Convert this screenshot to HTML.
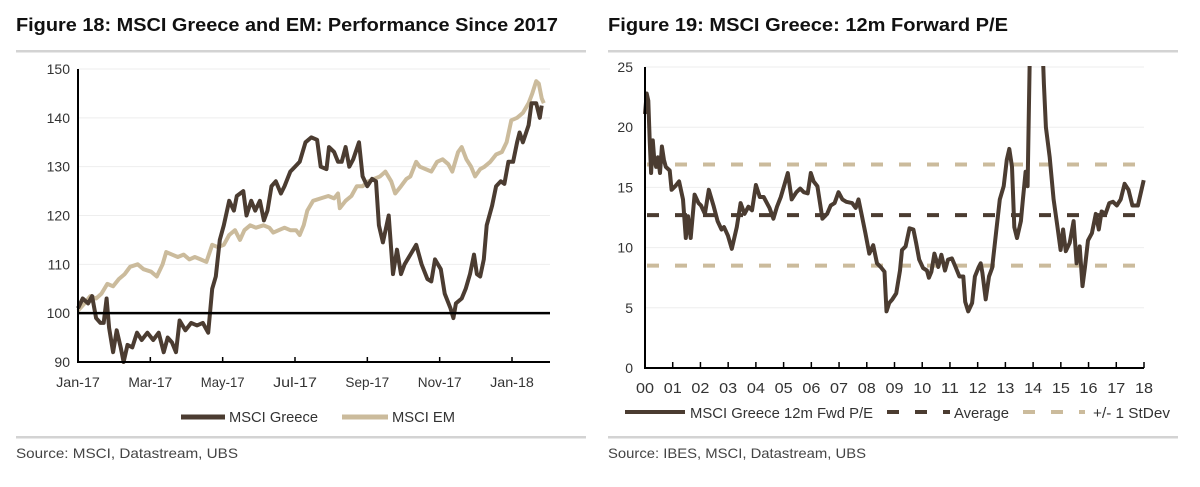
<!DOCTYPE html>
<html><head><meta charset="utf-8"><style>
body{margin:0;background:#fff;}
svg{display:block;font-family:"Liberation Sans",sans-serif;}
</style></head><body>
<svg id="c" width="1200" height="487" viewBox="0 0 1200 487">
<text x="16" y="31" font-size="18" font-weight="bold" fill="#111" textLength="542" lengthAdjust="spacingAndGlyphs">Figure 18: MSCI Greece and EM: Performance Since 2017</text>
<text x="608" y="31" font-size="18" font-weight="bold" fill="#111" textLength="400" lengthAdjust="spacingAndGlyphs">Figure 19: MSCI Greece: 12m Forward P/E</text>
<rect x="16" y="50" width="570" height="2.5" fill="#d3d3d3"/>
<rect x="608" y="50" width="570" height="2.5" fill="#d3d3d3"/>
<rect x="16" y="436" width="570" height="2.5" fill="#d3d3d3"/>
<rect x="608" y="436" width="570" height="2.5" fill="#d3d3d3"/>
<text x="16" y="458" font-size="14" fill="#444" textLength="222" lengthAdjust="spacingAndGlyphs">Source:  MSCI, Datastream, UBS</text>
<text x="608" y="458" font-size="14" fill="#444" textLength="258" lengthAdjust="spacingAndGlyphs">Source:  IBES, MSCI, Datastream, UBS</text>
<g id="left"></g><g id="right"></g>
<defs><clipPath id="clipR"><rect x="640" y="66" width="520" height="305"/></clipPath></defs>
</svg>
<script>
// Figure 18 data (months since Jan-17)
const grMonths=[0,.13,.28,.39,.5,.62,.71,.79,.86,.97,1.07,1.18,1.26,1.37,1.5,1.63,1.76,1.92,2.08,2.23,2.37,2.48,2.6,2.71,2.81,2.97,3.13,3.29,3.45,3.6,3.71,3.81,3.92,4.03,4.18,4.31,4.39,4.57,4.66,4.79,4.9,5.03,5.14,5.24,5.35,5.47,5.61,5.71,5.87,6,6.13,6.29,6.45,6.61,6.71,6.87,6.94,7.08,7.19,7.29,7.4,7.5,7.61,7.77,7.87,8,8.13,8.24,8.32,8.43,8.59,8.71,8.82,8.93,9.03,9.19,9.35,9.5,9.66,9.77,9.87,10.03,10.14,10.3,10.38,10.45,10.61,10.72,10.84,10.95,11.03,11.12,11.22,11.3,11.45,11.56,11.69,11.79,11.9,12.03,12.14,12.21,12.3,12.46,12.54,12.67,12.77,12.82];
const grValues=[101,103,102,103.5,99,98,98,103,97,92,96.5,93,90,93.5,93,96,94.5,96,94.5,96,92,95,94,92,98.5,96.5,98,97.5,98,96,105,107.5,115,118,123,121,124,125,120,123,121,123,119,121,126,127,124.5,126,129,130,131,135,136,135.5,130,129.5,134,133,131,131,134,130,131.5,135,128,126,127.5,127,118,114.5,120,108,113,108,110,112,114,110,107,106.5,111,109,104,101,99,102,103,105,108,112,108,107.5,111,118,122,126,127,126.5,131,131,135,137,135,138.5,143,143,140,142.5];
const emMonths=[0,.18,.34,.5,.65,.81,.97,1.13,1.29,1.44,1.65,1.81,2.02,2.18,2.34,2.44,2.6,2.76,2.92,3.08,3.23,3.39,3.55,3.71,3.87,4.03,4.18,4.34,4.48,4.6,4.76,4.92,5.13,5.29,5.4,5.55,5.71,5.87,6.03,6.13,6.24,6.34,6.5,6.71,6.92,7.08,7.19,7.24,7.4,7.56,7.71,7.87,8.03,8.19,8.35,8.5,8.66,8.77,8.93,9.08,9.19,9.35,9.45,9.61,9.77,9.93,10.08,10.24,10.35,10.51,10.61,10.74,10.87,10.98,11.12,11.24,11.4,11.56,11.72,11.85,11.98,12.14,12.3,12.46,12.56,12.67,12.74,12.82,12.88];
const emValues=[100.5,102,103.5,103,104,106,105.5,107,108,109.5,110,109,108.5,107.5,110,112.5,112,111.5,112,111,111.5,111,110.5,114,113.5,114,116,117,115,117,118,117.5,118,117.5,116.5,117,117.5,117,117,116,118,121,123,123.5,124,123.5,124.5,121.5,123,124,126,126,127,127.5,128,129,127,124.5,126,127.5,128,131,130,129.5,129,131,131.5,130.5,129,133,134,131.5,130,128,129.5,130,131,132.5,133,135,139.5,140,141,143,145,147.5,147,144,143];
const leftYTicks=[90,100,110,120,130,140,150];
const leftXLabels=["Jan-17","Mar-17","May-17","Jul-17","Sep-17","Nov-17","Jan-18"];
const leftXTickMonths=[0,2,4,6,8,10,12];
// Figure 19 data (years since 2000)
const peYears=[0,.06,.12,.17,.22,.28,.33,.4,.47,.54,.61,.68,.75,.89,.96,1.09,1.23,1.37,1.47,1.55,1.65,1.79,1.93,2.02,2.16,2.3,2.48,2.62,2.76,2.85,2.99,3.13,3.31,3.45,3.59,3.73,3.86,4,4.14,4.28,4.49,4.63,4.76,4.9,5.04,5.15,5.29,5.46,5.6,5.73,5.87,5.98,6.08,6.22,6.4,6.57,6.7,6.84,6.98,7.12,7.26,7.47,7.6,7.7,7.81,7.95,8.09,8.23,8.37,8.5,8.64,8.71,8.81,8.92,9.06,9.2,9.27,9.4,9.54,9.68,9.78,9.89,10.03,10.17,10.24,10.33,10.44,10.58,10.69,10.82,10.93,11.07,11.2,11.34,11.48,11.55,11.66,11.8,11.9,12.04,12.11,12.17,12.29,12.41,12.52,12.66,12.8,12.94,13.05,13.14,13.24,13.32,13.42,13.56,13.63,13.73,13.8,13.88,14.04,14.32,14.39,14.46,14.6,14.74,14.88,14.99,15.08,15.18,15.32,15.46,15.57,15.68,15.78,15.87,15.98,16.12,16.26,16.37,16.47,16.61,16.75,16.88,17.02,17.16,17.3,17.44,17.58,17.78,17.99];
const peValues=[21.1,22.8,22.2,18.9,16.2,18.9,17.5,16.7,17.5,16.2,18.4,17.3,16.7,16.4,14.8,15.1,15.5,14,10.8,12.6,10.8,14.4,13.7,13.5,12.8,14.8,13.4,12.2,11.5,11.7,11,9.9,11.7,13.7,12.8,13.4,13.1,15.2,14.2,14.2,13.3,12.4,13.4,14.2,15.3,16.2,14,14.6,14.9,14.6,14.5,16.2,15.5,15.1,12.4,12.8,13.5,13.7,14.6,14,13.8,13.7,13.3,14,12.8,11.2,9.5,10.2,8.7,8.4,8,4.7,5.4,5.7,6.2,8.1,9.8,10.1,11.6,11.5,10.4,9,8.3,8.1,7.5,8,9.5,8.4,9.4,8.1,9,9.1,8.4,7.6,7.6,5.5,4.7,5.4,7.6,8.4,8.7,7.9,5.7,7.6,8.3,11.2,14,15.1,17.3,18.2,16.7,11.7,10.8,12.2,14,16.3,15.1,26,32,28,23.6,20,17.5,14,11.7,9.8,11.5,9.7,10.4,12.2,8.7,10.1,6.8,8.4,10.6,11.2,12.8,11.5,13,12.8,13.7,13.8,13.5,14,15.3,14.8,13.5,13.5,15.6];
const peAverage=[12.7];
const peStdBands=[16.9,8.5];
const rightYTicks=[0,5,10,15,20,25];
const rightXLabels=["00","01","02","03","04","05","06","07","08","09","10","11","12","13","14","15","16","17","18"];

const NS="http://www.w3.org/2000/svg";
function mk(parent,tag,attrs){const e=document.createElementNS(NS,tag);for(const k in attrs)e.setAttribute(k,attrs[k]);parent.appendChild(e);return e;}
const L={x0:78,x1:550,y0:362,y1:69};
const lx=m=>L.x0+m*(512-78)/12;
const ly=v=>L.y0-(v-90)*(L.y0-L.y1)/60;
const R={x0:645,x1:1144,y0:368,y1:67};
const rx=y=>R.x0+y*(R.x1-R.x0)/18;
const ry=v=>R.y0-v*(R.y0-R.y1)/25;

const gl=document.getElementById('left');
leftYTicks.forEach(t=>{
  if(t>90){const g=mk(gl,'line',{x1:L.x0,x2:L.x1,y1:ly(t),y2:ly(t),stroke:'#eeeeee','stroke-width':1});
  
  }
  const tx=mk(gl,'text',{x:L.x0-8,y:ly(t)+5,'font-size':14,fill:'#333','text-anchor':'end'});tx.textContent=t;
  
  
});
leftXTickMonths.forEach((m,i)=>{
  const tk=mk(gl,'line',{x1:lx(m),x2:lx(m),y1:L.y0,y2:L.y0-5,stroke:'#000','stroke-width':1.5});
  
  
  const tx=mk(gl,'text',{x:lx(m),y:L.y0+25,'font-size':14,fill:'#333','text-anchor':'middle',textLength:leftXLabels[i].length*7.3,lengthAdjust:'spacingAndGlyphs'});tx.textContent=leftXLabels[i];
  
  
});
function path(xs,ys,fx,fy){return xs.map((x,i)=>(i?'L':'M')+fx(x).toFixed(1)+','+fy(ys[i]).toFixed(1)).join('');}
const em=mk(gl,'path',{d:path(emMonths,emValues,lx,ly),fill:'none',stroke:'#cbbb9c','stroke-width':4,'stroke-linejoin':'round'});


const gr=mk(gl,'path',{d:path(grMonths,grValues,lx,ly),fill:'none',stroke:'#4b3c31','stroke-width':4,'stroke-linejoin':'round'});


const base=mk(gl,'line',{x1:L.x0,x2:L.x1,y1:ly(100),y2:ly(100),stroke:'#000','stroke-width':2.5});


const lax=mk(gl,'path',{d:`M${L.x0},${L.y1}V${L.y0}H${L.x1}`,fill:'none',stroke:'#000','stroke-width':2});


const lg1=mk(gl,'line',{x1:181,x2:225,y1:417,y2:417,stroke:'#4b3c31','stroke-width':5});


const lt1=mk(gl,'text',{x:229,y:422,'font-size':15,fill:'#333',textLength:89,lengthAdjust:'spacingAndGlyphs'});lt1.textContent='MSCI Greece';


const lg2=mk(gl,'line',{x1:342,x2:388,y1:417,y2:417,stroke:'#cbbb9c','stroke-width':5});


const lt2=mk(gl,'text',{x:392,y:422,'font-size':15,fill:'#333',textLength:63,lengthAdjust:'spacingAndGlyphs'});lt2.textContent='MSCI EM';



const grr=document.getElementById('right');
rightYTicks.forEach(t=>{
  if(t>0){const g=mk(grr,'line',{x1:R.x0,x2:R.x1,y1:ry(t),y2:ry(t),stroke:'#eeeeee','stroke-width':1});
  
  }
  const tx=mk(grr,'text',{x:R.x0-12,y:ry(t)+5,'font-size':14,fill:'#333','text-anchor':'end'});tx.textContent=t;
  
  
});
rightXLabels.forEach((l,i)=>{
  const tk=mk(grr,'line',{x1:rx(i),x2:rx(i),y1:R.y0,y2:R.y0-6,stroke:'#000','stroke-width':1.5});
  
  
  const tx=mk(grr,'text',{x:rx(i),y:R.y0+25,'font-size':15,fill:'#333','text-anchor':'middle',textLength:18,lengthAdjust:'spacingAndGlyphs'});tx.textContent=l;
  
  
});
peStdBands.forEach(v=>{
  const b=mk(grr,'line',{x1:R.x0+2,x2:R.x1,y1:ry(v),y2:ry(v),stroke:'#cbbb9c','stroke-width':4,'stroke-dasharray':'12 16'});
  
  
});
const pe=mk(grr,'path',{d:path(peYears,peValues,rx,ry),fill:'none',stroke:'#4b3c31','stroke-width':4,'stroke-linejoin':'round','clip-path':'url(#clipR)'});


const av=mk(grr,'line',{x1:R.x0+2,x2:R.x1,y1:ry(peAverage[0]),y2:ry(peAverage[0]),stroke:'#4b3c31','stroke-width':4,'stroke-dasharray':'12 16'});


const rax=mk(grr,'path',{d:`M${R.x0},${R.y1}V${R.y0}H${R.x1}`,fill:'none',stroke:'#000','stroke-width':2});


const r1=mk(grr,'line',{x1:625,x2:685,y1:412,y2:412,stroke:'#4b3c31','stroke-width':4});


const rt1=mk(grr,'text',{x:690,y:418,'font-size':15,fill:'#333',textLength:183,lengthAdjust:'spacingAndGlyphs'});rt1.textContent='MSCI Greece 12m Fwd P/E';


const r2=mk(grr,'line',{x1:887,x2:950,y1:412,y2:412,stroke:'#4b3c31','stroke-width':4,'stroke-dasharray':'12 16'});


const rt2=mk(grr,'text',{x:954,y:418,'font-size':15,fill:'#333',textLength:55,lengthAdjust:'spacingAndGlyphs'});rt2.textContent='Average';


const r3=mk(grr,'line',{x1:1023,x2:1085,y1:412,y2:412,stroke:'#cbbb9c','stroke-width':4,'stroke-dasharray':'12 16'});


const rt3=mk(grr,'text',{x:1093,y:418,'font-size':15,fill:'#333',textLength:77,lengthAdjust:'spacingAndGlyphs'});rt3.textContent='+/- 1 StDev';


</script>
</body></html>
